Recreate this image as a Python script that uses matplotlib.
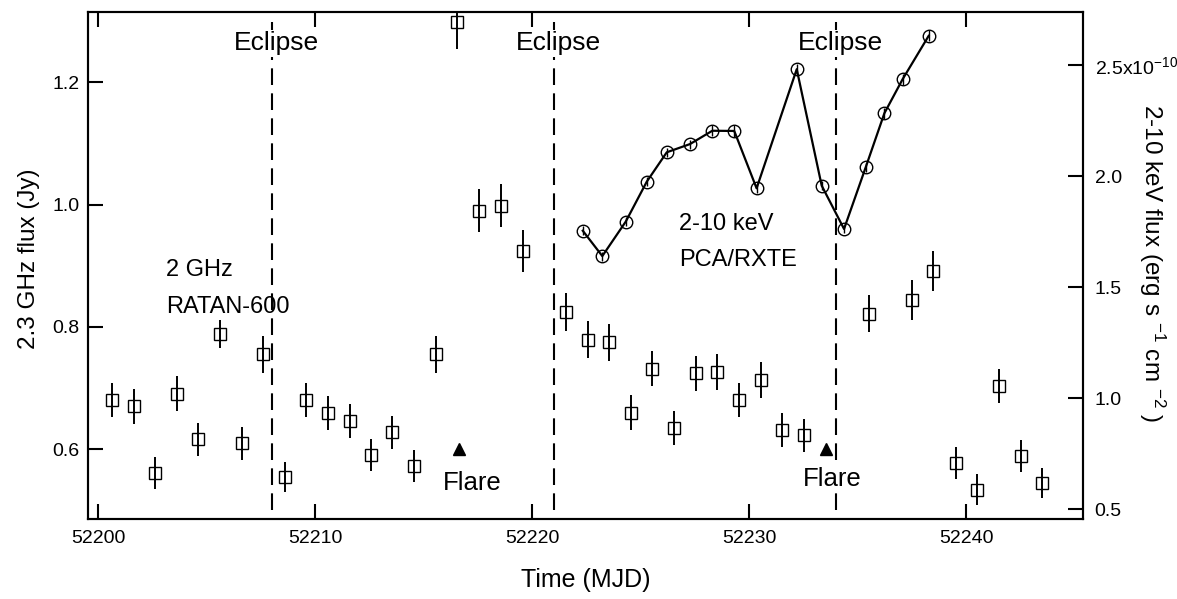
import matplotlib
matplotlib.use("Agg")
import matplotlib.pyplot as plt

plt.rcParams['font.family'] = ['Liberation Sans', 'DejaVu Sans']
plt.rcParams['mathtext.fontset'] = 'custom'
plt.rcParams['mathtext.rm'] = 'Liberation Sans'
plt.rcParams['mathtext.it'] = 'Liberation Sans:italic'
plt.rcParams['mathtext.default'] = 'rm'

#
# Data
#

# RATAN-600, 2.3 GHz (Jy)
radio_t = [52200.66, 52201.66, 52202.63, 52203.63, 52204.60, 52205.62, 52206.62, 52207.60,
           52208.60, 52209.60, 52210.60, 52211.60, 52212.58, 52213.56, 52214.55, 52215.58,
           52216.56, 52217.57, 52218.56, 52219.57,
           52221.57, 52222.57, 52223.55, 52224.55, 52225.55, 52226.55, 52227.54, 52228.54,
           52229.52, 52230.54, 52231.53, 52232.53,
           52235.53, 52237.51, 52238.50, 52239.52, 52240.50, 52241.52, 52242.52, 52243.50]
radio_flux = [0.680, 0.670, 0.561, 0.691, 0.616, 0.788, 0.610, 0.755,
              0.555, 0.680, 0.659, 0.646, 0.591, 0.628, 0.572, 0.755,
              1.298, 0.990, 0.998, 0.924,
              0.825, 0.779, 0.775, 0.660, 0.732, 0.635, 0.724, 0.726,
              0.680, 0.713, 0.632, 0.623,
              0.822, 0.844, 0.892, 0.577, 0.534, 0.703, 0.589, 0.545]
radio_err = [0.028, 0.028, 0.026, 0.028, 0.027, 0.023, 0.027, 0.030,
             0.025, 0.028, 0.028, 0.028, 0.026, 0.027, 0.026, 0.030,
             0.043, 0.035, 0.035, 0.034,
             0.031, 0.030, 0.030, 0.028, 0.029, 0.028, 0.029, 0.029,
             0.028, 0.029, 0.028, 0.027,
             0.031, 0.032, 0.033, 0.026, 0.025, 0.028, 0.026, 0.025]

# PCA/RXTE 2-10 keV flux (1e-10 erg/s/cm2)
xray_t = [52222.34, 52223.24, 52224.32, 52225.29, 52226.21, 52227.28, 52228.31, 52229.32,
          52230.35, 52232.20, 52233.35, 52234.38, 52235.38, 52236.24, 52237.08, 52238.28]
xray_flux = [1.754, 1.640, 1.795, 1.975, 2.107, 2.144, 2.204, 2.203,
             1.945, 2.481, 1.957, 1.762, 2.040, 2.283, 2.436, 2.631]
xray_err = [0.02, 0.02, 0.02, 0.02, 0.02, 0.02, 0.025, 0.025,
            0.02, 0.025, 0.02, 0.02, 0.02, 0.025, 0.025, 0.025]

eclipse_t = [52208.0, 52221.0, 52234.0]
flare_t = [52216.62, 52233.53]
flare_y = [0.600, 0.600]

x_ticks = [52200, 52210, 52220, 52230, 52240]
left_ticks = [0.6, 0.8, 1.0, 1.2]
right_ticks = [0.5, 1.0, 1.5, 2.0, 2.5]
right_labels = ['0.5', '1.0', '1.5', '2.0', r'2.5x10$^{-10}$']

#
# Figure
#
fig = plt.figure(figsize=(11.77, 5.99), dpi=100)
ax = fig.add_axes([0.07477, 0.13306, 0.84579, 0.84641])
ax2 = ax.twinx()

# radio points
ax.errorbar(radio_t, radio_flux, yerr=radio_err, fmt='s', ms=9, mfc='none', mec='k',
            mew=1.0, ecolor='k', elinewidth=1.4, capsize=0, zorder=3)

# eclipses
ax.vlines(eclipse_t, 0.50, 1.298, colors='k', linestyles=(0, (8, 4)), linewidth=1.5, zorder=2)
for t in eclipse_t:
    ax.text(t + 0.23, 1.264, 'Eclipse', fontsize=19, ha='center', va='center', zorder=5,
            bbox=dict(facecolor='white', edgecolor='none', pad=1))

# flares
ax.plot(flare_t, flare_y, '^', color='k', ms=9, zorder=4)
ax.text(52217.24, 0.545, 'Flare', fontsize=18.5, ha='center', va='center', zorder=5,
        bbox=dict(facecolor='white', edgecolor='none', pad=1))
ax.text(52233.85, 0.551, 'Flare', fontsize=18.5, ha='center', va='center', zorder=5,
        bbox=dict(facecolor='white', edgecolor='none', pad=1))

ax.text(52203.13, 0.893, '2 GHz', fontsize=17, ha='left', va='center')
ax.text(52203.13, 0.833, 'RATAN-600', fontsize=17, ha='left', va='center')
ax.text(52226.79, 0.969, '2-10 keV', fontsize=17, ha='left', va='center')
ax.text(52226.79, 0.910, 'PCA/RXTE', fontsize=17, ha='left', va='center')

# x-ray curve
ax2.errorbar(xray_t, xray_flux, yerr=xray_err, fmt='-o', color='k', lw=1.6, ms=9,
             mfc='none', mec='k', mew=1.0, elinewidth=1.0, capsize=0)

ax.set_xlim(52199.539, 52245.415)
ax.set_ylim(0.4855, 1.3145)
ax2.set_ylim(0.4555, 2.737)

ax.set_xticks(x_ticks)
ax.set_yticks(left_ticks)
ax.set_yticklabels(['%.1f' % v for v in left_ticks])
ax2.set_yticks(right_ticks)
ax2.set_yticklabels(right_labels)

ax.tick_params(axis='x', direction='in', top=True, length=11, width=1.5, pad=8, labelsize=14)
ax.tick_params(axis='y', direction='in', right=False, length=11, width=1.5, pad=6, labelsize=14)
ax2.tick_params(axis='y', direction='in', length=11, width=1.5, pad=8, labelsize=14)

for a in (ax, ax2):
    for s in a.spines.values():
        s.set_linewidth(1.5)

fig.text(28.6 / 1177, 1 - 259 / 599, '2.3 GHz flux (Jy)', rotation=90, fontsize=17.5,
         ha='center', va='center')
fig.text(1152 / 1177, 1 - 263 / 599, r'2-10 keV flux (erg s $^{-1}$ cm $^{-2}$ )', rotation=270,
         fontsize=17.5, ha='center', va='center')
fig.text(585.8 / 1177, 1 - 580 / 599, 'Time (MJD)', fontsize=18, ha='center', va='center')

fig.savefig('out.png', dpi=100)
